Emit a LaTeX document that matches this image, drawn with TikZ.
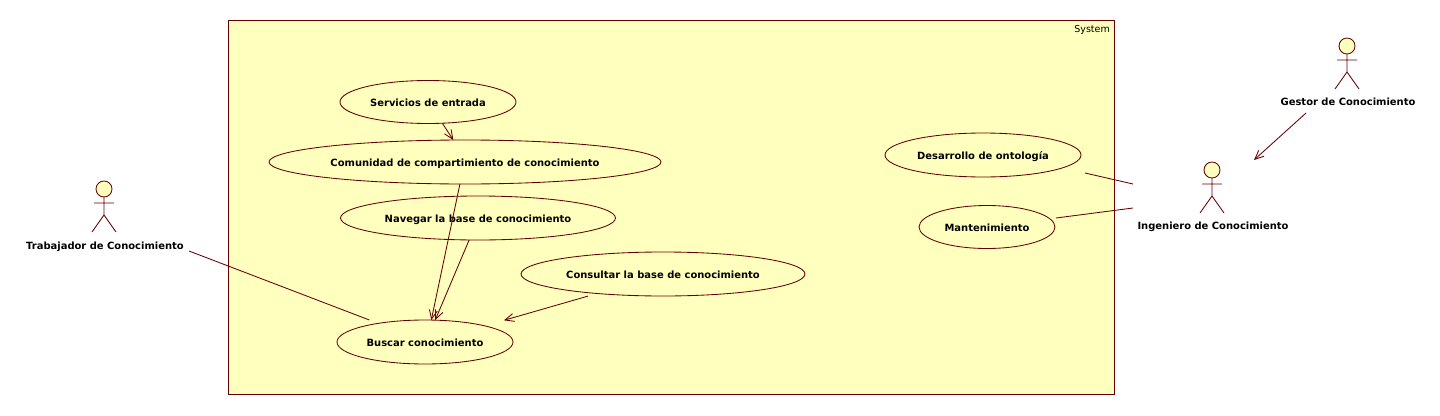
\documentclass[tikz,border=0pt]{standalone}
\usepackage{fontspec}
\setmainfont{DejaVu Sans}
\usetikzlibrary{shapes.geometric,arrows.meta}
\definecolor{umlline}{HTML}{660000}
\definecolor{umlfill}{HTML}{FFFFBE}
\tikzset{
  x=1pt,y=-1pt,
  umlline/.style={draw=umlline,line width=0.85pt},
  usecase/.style={umlline,fill=umlfill,ellipse,inner sep=0pt,outer sep=0pt,font=\bfseries\fontsize{9.95}{12}\selectfont,text=black,text height=10pt,text depth=2pt},
  actorhead/.style={umlline,fill=umlfill,circle,minimum size=16pt,inner sep=0pt,outer sep=0pt},
  actorname/.style={inner sep=0pt,outer sep=0pt,minimum height=12pt,font=\bfseries\fontsize{9.95}{12}\selectfont,text=black,text height=10pt,text depth=2pt},
  assoc/.style={umlline},
  dep/.style={umlline,-{Straight Barb[length=9pt,width=8pt,line width=0.85pt]}},
}
\newcommand{\stickfigure}[1]{%
  \draw[umlline] (#1.south) -- ++(0,18) ++(-10,-12) -- ++(20,0) ++(-10,12) -- ++(-12,17) ++(12,-17) -- ++(12,17);}
\begin{document}
\begin{tikzpicture}
\useasboundingbox (0,0) rectangle (1440,415);
\node[umlline,fill=umlfill,rectangle,inner sep=0pt,minimum width=886pt,minimum height=374pt] (system) at (671,207) {};
\node[anchor=north east,inner sep=0pt,font=\fontsize{9.5}{11}\selectfont,text=black] (systemlabel) at (1110,25) {System};

\node[usecase,minimum width=176pt,minimum height=43pt] (serv) at (428,102) {Servicios de entrada};
\node[usecase,minimum width=392pt,minimum height=44pt] (comu) at (465,162) {Comunidad de compartimiento de conocimiento};
\node[usecase,minimum width=275pt,minimum height=44pt] (nave) at (478,218) {Navegar la base de conocimiento};
\node[usecase,minimum width=284pt,minimum height=44pt] (cons) at (663,274) {Consultar la base de conocimiento};
\node[usecase,minimum width=176pt,minimum height=44pt] (busc) at (425,342) {Buscar conocimiento};
\node[usecase,minimum width=196pt,minimum height=44pt] (desa) at (983,155) {Desarrollo de ontología};
\node[usecase,minimum width=136pt,minimum height=43pt] (mant) at (987,227) {Mantenimiento};

\node[actorhead] (trabH) at (104,189) {};
\stickfigure{trabH}
\node[actorname,minimum width=160pt] (trab) at (105,245) {Trabajador de Conocimiento};
\node[actorhead] (gestH) at (1347,46) {};
\stickfigure{gestH}
\node[actorname,minimum width=135pt] (gest) at (1348,101) {Gestor de Conocimiento};
\node[actorhead] (ingeH) at (1212,170) {};
\stickfigure{ingeH}
\node[actorname,minimum width=152pt] (inge) at (1213,225) {Ingeniero de Conocimiento};

\draw[dep] (serv.-56.6) -- (comu.118.6);
\draw[dep] (comu.-103) -- (busc.74.7);
\draw[dep] (nave.-112) -- (busc.65.6);
\draw[dep] ([yshift=-3.4pt]cons.-166) -- ([yshift=12pt]busc.7.4);
\draw[assoc] ([shift={(4pt,-6pt)}]trab.east) -- ([yshift=5pt]busc.163);
\draw[dep] ([shift={(-42pt,-6pt)}]gest.south) -- ([shift={(42pt,10pt)}]ingeH.center);
\draw[assoc] ([shift={(4pt,-18pt)}]desa.east) -- ([shift={(-79pt,-14pt)}]ingeH.center);
\draw[assoc] ([shift={(1pt,9pt)}]mant.east) -- ([shift={(-79pt,-38pt)}]ingeH.center);
\end{tikzpicture}
\end{document}
